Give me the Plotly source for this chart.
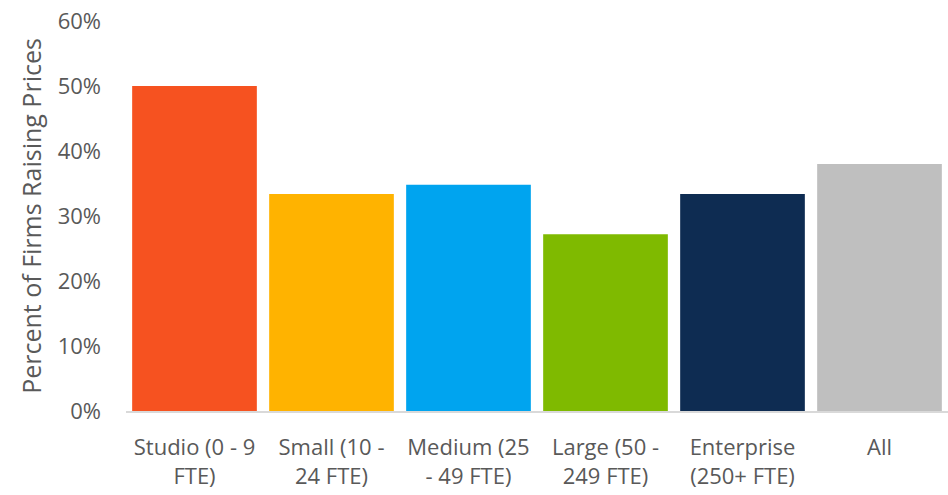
import plotly.graph_objects as go

categories = ["Studio (0 - 9<br>FTE)", "Small (10 -<br>24 FTE)", "Medium (25<br>- 49 FTE)",
              "Large (50 -<br>249 FTE)", "Enterprise<br>(250+ FTE)", "All"]
values = [0.50, 0.334, 0.348, 0.272, 0.334, 0.380]
colors = ["#F65220", "#FFB300", "#00A4EF", "#7FBA00", "#0E2C52", "#BFBFBF"]
y_ticks = [0, 0.1, 0.2, 0.3, 0.4, 0.5, 0.6]

fig = go.Figure(go.Bar(x=categories, y=values, marker=dict(color=colors, line=dict(width=0)),
                       hoverinfo="skip"))

font_color = "#595959"
fig.update_layout(
    width=948, height=495,
    margin=dict(l=126, r=0, t=21, b=84),
    paper_bgcolor="white", plot_bgcolor="white",
    bargap=0.09,
    font=dict(family="Open Sans", size=22, color=font_color),
    showlegend=False,
)
fig.update_yaxes(range=[0, 0.6], tickvals=y_ticks, tickformat=".0%",
                 showgrid=False, zeroline=False, showline=False,
                 ticklabelstandoff=24,
                 title=dict(text="Percent of Firms Raising Prices", font=dict(size=25, color=font_color), standoff=8))
fig.update_xaxes(showline=True, linecolor="#D9D9D9", linewidth=2, showgrid=False,
                 ticklabelstandoff=16, tickfont=dict(size=22))

fig.write_html("out.html")
